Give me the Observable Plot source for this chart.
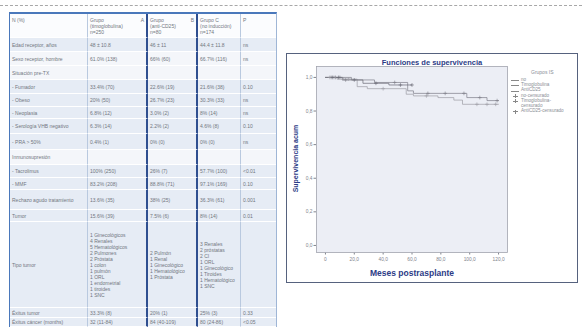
<!DOCTYPE html>
<html><head><meta charset="utf-8">
<script src="https://cdn.jsdelivr.net/npm/d3@7"></script>
<script src="https://cdn.jsdelivr.net/npm/@observablehq/plot@0.6"></script>
<style>
html,body{margin:0;padding:0;background:#fff;}
body{width:582px;height:329px;position:relative;overflow:hidden;font-family:"Liberation Sans",Arial,sans-serif;}
#dash{position:absolute;left:0;top:5px;width:582px;height:0;border-top:1px dashed #a8a8a8;}
#tbl{position:absolute;left:9px;top:12px;border-collapse:separate;border-spacing:0;table-layout:fixed;width:266px;
  border-top:2px solid #4a78bb;border-left:1.5px solid #4a78bb;border-right:1px solid #9fb6d6;}
#tbl td{font-size:5px;line-height:6px;color:#72777f;padding:0 2px;vertical-align:middle;overflow:hidden;
  border-bottom:1.5px solid #fff;border-right:1px solid #b9c9df;background:#e6ecf5;}
#tbl tr.w td{background:#f4f6fa;}
#tbl tr.h td{background:#fbfcfe;vertical-align:top;padding-top:3px;}
#tbl td.c1,#tbl td.c2{border-right:2px solid #2f4f90;}
#tbl td.c4{border-right:none;}
#box{position:absolute;left:286px;top:53px;width:290px;height:228px;border:1.5px solid #56627e;background:#fff;}
#plot{position:absolute;left:0;top:0;}
#title{position:absolute;left:0;width:290px;top:4px;text-align:center;font-size:7.5px;font-weight:bold;color:#2c3b86;}
#xlab{position:absolute;left:60px;width:130px;top:214px;text-align:center;font-size:8.5px;font-weight:bold;color:#2c3b86;}
#ylab{position:absolute;left:-42px;top:101px;width:100px;text-align:center;font-size:7px;font-weight:bold;color:#2c3b86;transform:rotate(-90deg);}
#legend{position:absolute;left:224px;top:16px;width:68px;font-size:4.6px;line-height:4.8px;color:#8a8e96;}
#legend .t{margin-left:20px;margin-bottom:3px;font-size:5px;}
#legend .it{display:flex;align-items:flex-start;margin-bottom:0.5px;}
#legend .sw{flex:0 0 8px;height:4.8px;position:relative;margin-right:2px;}
#legend .sw i{position:absolute;left:0;right:0;top:2.4px;border-top:0.8px solid #888;}
#legend .sw b{position:absolute;left:3.5px;top:0.5px;height:4px;border-left:0.8px solid #888;}
</style></head>
<body>
<div id="dash"></div>
<table id="tbl"><colgroup><col style="width:78px"><col style="width:60px"><col style="width:50px"><col style="width:43px"><col style="width:35px"></colgroup><tbody id="tb"></tbody></table>
<div id="box">
  <div id="plot"></div>
  <div id="title">Funciones de supervivencia</div>
  <div id="xlab">Meses postrasplante</div>
  <div id="ylab">Supervivencia acum</div>
  <div id="legend"></div>
</div>
<script>
// ---- table data ----
const headers = ["N (%)", "Grupo<br>(timoglobulina)<br>n=250", "Grupo<br>(anti-CD25)<br>n=80", "Grupo C<br>(no inducción)<br>n=174", "P"];
const headerTags = ["", "A", "B", "", ""];
const rowLabels = ["Edad receptor, años","Sexo receptor, hombre","Situación pre-TX","- Fumador","- Obeso","- Neoplasia","- Serología VHB negativo","- PRA > 50%","Inmunosupresión","- Tacrolimus","- MMF","Rechazo agudo tratamiento","Tumor","Tipo tumor","Éxitus tumor","Éxitus cáncer (months)"];
const colA = ["48 ± 10.8","61.0% (138)","","33.4% (70)","20% (50)","6.8% (12)","6.3% (14)","0.4% (1)","","100% (250)","83.2% (208)","13.6% (35)","15.6% (39)",
  "1 Ginecológicos<br>4 Renales<br>5 Hematológicos<br>2 Pulmones<br>2 Próstata<br>1 colon<br>1 pulmón<br>1 ORL<br>1 endometrial<br>1 tiroides<br>1 SNC","33.3% (8)","32 (11-84)"];
const colB = ["46 ± 11","66% (60)","","22.6% (19)","26.7% (23)","3.0% (2)","2.2% (2)","0% (0)","","26% (7)","88.8% (71)","38% (25)","7.5% (6)",
  "2 Pulmón<br>1 Renal<br>1 Ginecológico<br>1 Hematológico<br>1 Próstata","20% (1)","84 (40-109)"];
const colC = ["44.4 ± 11.8","66.7% (116)","","21.6% (38)","30.3% (33)","8% (14)","4.6% (8)","0% (0)","","57.7% (100)","97.1% (169)","36.3% (61)","8% (14)",
  "3 Renales<br>2 próstatas<br>2 CI<br>1 ORL<br>1 Ginecológico<br>1 Tiroides<br>1 Hematológico<br>1 SNC","25% (3)","80 (24-86)"];
const pValues = ["ns","ns","","0.10","ns","ns","0.10","ns","","<0.01","0.10","0.001","0.01","","0.33","<0.05"];
const rowHeights = [14,14,14,14,13,12,15,16,15,13,12,20,12,86,10,9];
const whiteRows = [1,2,8];

const tb = document.getElementById("tb");
let hr = "<tr class='h' style='height:24px'>";
headers.forEach((h,i)=>{ hr += `<td class='c${i}'>${headerTags[i]?`<span style="float:right">${headerTags[i]}</span>`:""}${h}</td>`; });
tb.innerHTML = hr + "</tr>" + rowLabels.map((lab,r)=>{
  const cells=[lab,colA[r],colB[r],colC[r],pValues[r]];
  return `<tr class='${whiteRows.includes(r)?"w":""}' style='height:${rowHeights[r]}px'>`+cells.map((c,i)=>`<td class='c${i}'>${c}</td>`).join("")+"</tr>";
}).join("");

// ---- survival chart data ----
const groups = ["no","Timoglobulina","AntiCD25"];
const groupColors = ["#7d7d88","#9c9ca4","#686874"];
const timesNo = [0,18,34,57,61,98,112,120];
const survNo  = [1,0.985,0.97,0.92,0.905,0.88,0.862,0.862];
const timesTimo = [0,8,22,29,56,61,78,89,95,120];
const survTimo  = [1,0.99,0.945,0.933,0.9,0.89,0.88,0.865,0.84,0.84];
const timesAnti = [0,12,26,44,60];
const survAnti  = [1,0.985,0.965,0.955,0.955];
const censNoT = [4,7,10,14,48,71,83,96,107,119];
const censNoS = [1,1,1,0.985,0.97,0.905,0.905,0.905,0.88,0.862];
const censTimoT = [3,6,12,16,40,70,105,112,118];
const censTimoS = [1,1,0.99,0.99,0.933,0.89,0.84,0.84,0.84];
const censAntiT = [5,9,20,35,52,60];
const censAntiS = [1,1,0.985,0.965,0.955,0.955];
const xTicks = [0,20,40,60,80,100,120];
const yTicks = [0,0.2,0.4,0.6,0.8,1.0];

const lines = [], cens = [];
[[timesNo,survNo],[timesTimo,survTimo],[timesAnti,survAnti]].forEach(([t,s],g)=>t.forEach((v,i)=>lines.push({t:v,s:s[i],g:groups[g]})));
[[censNoT,censNoS],[censTimoT,censTimoS],[censAntiT,censAntiS]].forEach(([t,s],g)=>t.forEach((v,i)=>cens.push({t:v,s:s[i],g:groups[g]})));

const fmt = d => d===0 ? "0" : d.toFixed(1).replace(".", ",");
const chart = Plot.plot({
  width: 290, height: 228,
  marginLeft: 29, marginRight: 70, marginTop: 12, marginBottom: 30,
  style: {background: "transparent", fontFamily: "Liberation Sans, Arial, sans-serif", fontSize: "4.8px", color: "#80848c", overflow: "visible"},
  x: {domain: [-6.2, 126.2], ticks: xTicks, tickFormat: fmt, tickSize: 2.5, tickPadding: 2.5, label: null},
  y: {domain: [-0.042, 1.065], ticks: yTicks, tickFormat: d => d.toFixed(1).replace(".", ","), tickSize: 2.5, tickPadding: 1.5, label: null},
  color: {domain: groups, range: groupColors},
  marks: [
    Plot.frame({fill: "#eceef5", stroke: "#a2a4ae", strokeWidth: 0.8}),
    Plot.line(lines, {x: "t", y: "s", z: "g", stroke: "g", curve: "step-after", strokeWidth: 0.7}),
    Plot.dot(cens, {x: "t", y: "s", stroke: "g", symbol: "plus", r: 1.3, strokeWidth: 0.6})
  ]
});
document.getElementById("plot").appendChild(chart);

// legend
const legendItems = [["no",false],["Timoglobulina",false],["AntiCD25",false],["no-censurado",true],["Timoglobulina-<br>censurado",true],["AntiCD25-censurado",true]];
document.getElementById("legend").innerHTML = "<div class='t'>Grupos IS</div>" +
  legendItems.map(([n,c])=>`<div class='it'><span class='sw'>${c?"<b></b><i style='left:1.5px;right:1.5px'></i>":"<i></i>"}</span><span>${n}</span></div>`).join("");
</script>
</body></html>
